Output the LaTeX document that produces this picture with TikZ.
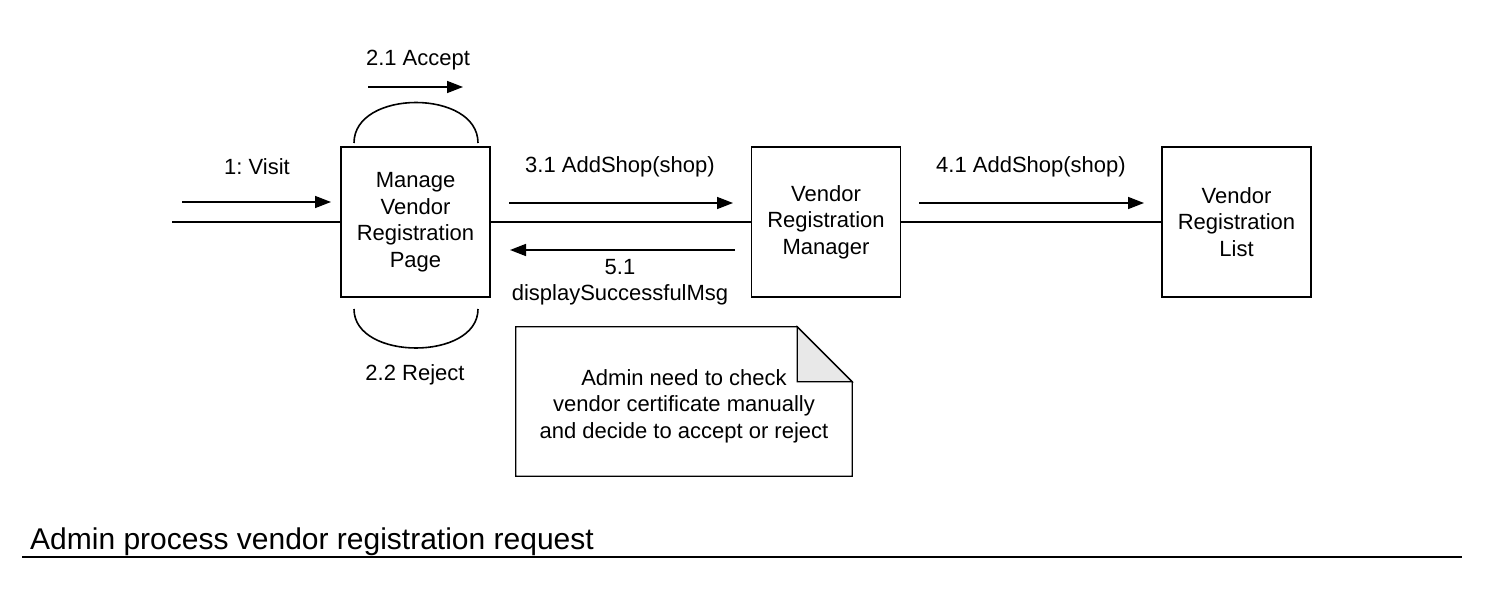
\documentclass[tikz,border=0pt]{standalone}
\usepackage{fontspec}
\setmainfont{Liberation Sans}
\usetikzlibrary{arrows.meta}
\frenchspacing
\begin{document}
\begin{tikzpicture}[x=1pt,y=-1pt,
  lbl/.style={font=\fontsize{22}{26.5}\selectfont, align=center, inner sep=0pt},
  obj/.style={draw, line width=1.6pt, minimum width=149pt, minimum height=150pt, inner sep=0pt, align=center, font=\fontsize{22}{26.5}\selectfont},
  conn/.style={line width=1.6pt},
  msg/.style={line width=1.6pt, -{Stealth[length=16pt,width=12pt,inset=0pt]}}
]
\useasboundingbox (0,0) rectangle (1494,604);
\node[obj] (mvrp) at (415.5,222) {Manage\\Vendor\\Registration\\Page};
\node[obj] (vrm) at (826,222) {Vendor\\Registration\\Manager};
\node[obj] (vrl) at (1236.5,222) {Vendor\\Registration\\List};
\coordinate (start) at (172,222);
\draw[conn] (start) -- (mvrp.west);
\draw[conn] (mvrp.east) -- (vrm.west);
\draw[conn] (vrm.east) -- (vrl.west);
% self loops
\coordinate (t1) at (354,143);
\coordinate (t2) at (478,143);
\draw[conn] (t1) .. controls (354,89) and (478,89) .. (t2);
\coordinate (b1) at (354,309);
\coordinate (b2) at (478,309);
\draw[conn] (b1) .. controls (354,361) and (478,361) .. (b2);
% message arrows
\coordinate (a1s) at (182,202); \coordinate (a1e) at (331,202);
\draw[msg] (a1s) -- (a1e);
\node[lbl] (l1) at (257,167) {1: Visit};
\coordinate (a21s) at (368,87); \coordinate (a21e) at (463,87);
\draw[msg] (a21s) -- (a21e);
\node[lbl] (l21) at (418,60) {2.1 Accept};
\node[lbl] (l22) at (415,375) {2.2 Reject};
\coordinate (a31s) at (509,203); \coordinate (a31e) at (733,203);
\draw[msg] (a31s) -- (a31e);
\node[lbl] (l31) at (620,167) {3.1 AddShop(shop)};
\coordinate (a51s) at (735,250); \coordinate (a51e) at (510,250);
\draw[msg] (a51s) -- (a51e);
\node[lbl] (l51) at (620,282) {5.1\\displaySuccessfulMsg};
\coordinate (a41s) at (919,203); \coordinate (a41e) at (1144,203);
\draw[msg] (a41s) -- (a41e);
\node[lbl] (l41) at (1031,167) {4.1 AddShop(shop)};
% note
\node[minimum width=336pt, minimum height=149pt, inner sep=0pt] (note) at (684,401.5) {};
\draw[line width=1.3pt, fill=white] (note.north west) -- ([xshift=-55pt]note.north east) -- ([yshift=-55pt]note.north east) -- (note.south east) -- (note.south west) -- cycle;
\draw[line width=1.3pt, fill=black!9] ([xshift=-55pt]note.north east) -- ([xshift=-55pt,yshift=-55pt]note.north east) -- ([yshift=-55pt]note.north east) -- cycle;
\node[lbl] (notetext) at (684,406) {Admin need to check\\vendor certificate manually\\and decide to accept or reject};
% title
\node[anchor=base west, inner sep=0pt, font=\fontsize{30}{36}\selectfont] (title) at (30,549) {Admin process vendor registration request};
\coordinate (ul1) at (22,557); \coordinate (ul2) at (1462,557);
\draw[line width=2pt] (ul1) -- (ul2);
\end{tikzpicture}
\end{document}
